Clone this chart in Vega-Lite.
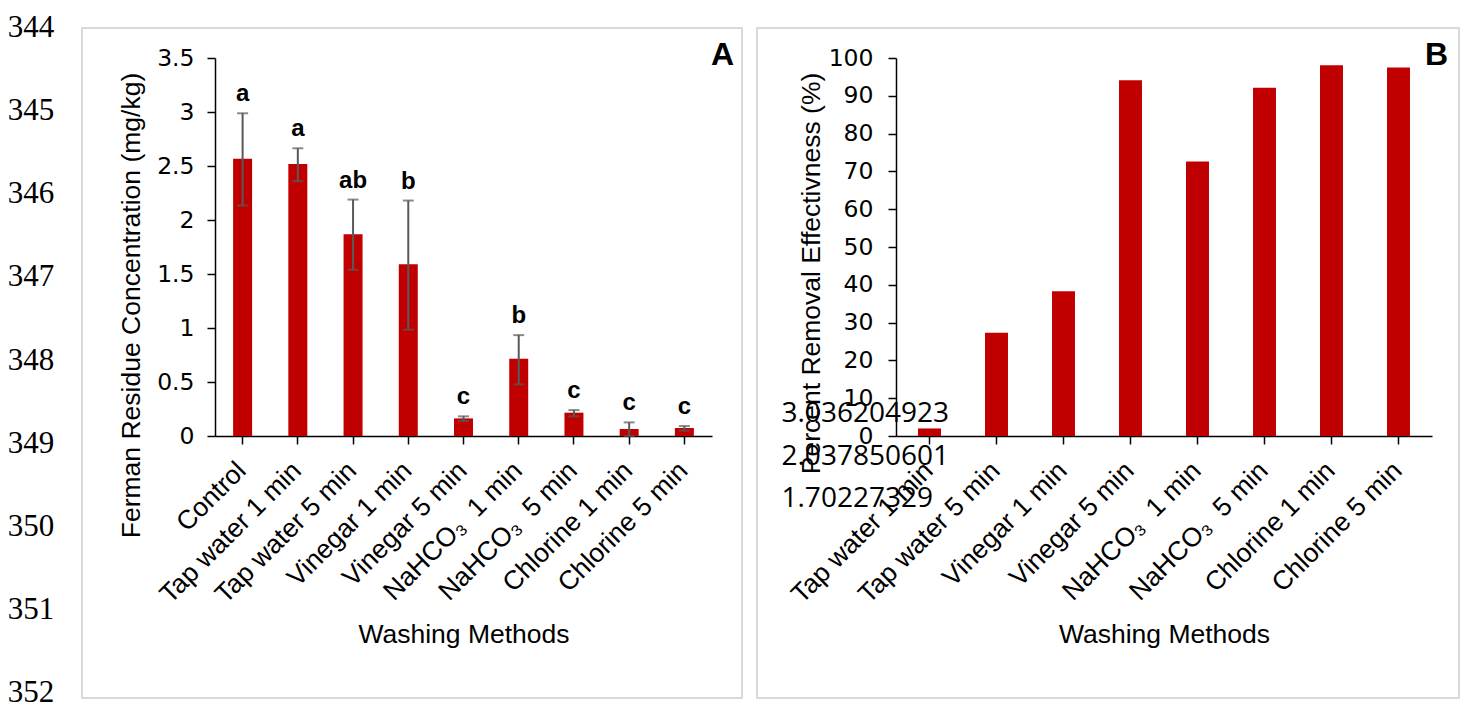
{
  "$schema": "https://vega.github.io/schema/vega-lite/v6.json",
  "padding": {"left": 7, "top": 12, "right": 2, "bottom": 0},
  "spacing": 28,
  "bounds": "flush",
  "background": "white",
  "config": {"font": "Liberation Sans", "view": {"stroke": null}},
  "hconcat": [
    {
      "width": 46,
      "height": 665,
      "view": {"stroke": null},
      "data": {"values": [
        {"line": "344"}, {"line": "345"}, {"line": "346"}, {"line": "347"}, {"line": "348"},
        {"line": "349"}, {"line": "350"}, {"line": "351"}, {"line": "352"}
      ]},
      "mark": {"type": "text", "align": "center", "baseline": "middle", "font": "Liberation Serif", "fontSize": 31, "color": "black"},
      "encoding": {
        "y": {"field": "line", "type": "ordinal", "sort": null, "scale": {"type": "point", "padding": 0}, "axis": null},
        "text": {"field": "line"}
      }
    },
    {
      "hconcat": [
        {
          "width": 660,
          "height": 670,
          "view": {"stroke": "#d9d9d9", "strokeWidth": 2},
          "title": {"text": "A", "orient": "top", "anchor": "end", "frame": "group", "offset": -69, "dx": -8, "baseline": "alphabetic", "fontSize": 32, "fontWeight": "bold", "color": "black", "font": "Liberation Sans"},
          "data": {"values": [
            {"method": "Control", "mean": 2.566, "lo": 2.134, "hi": 2.988, "letter": "a"},
            {"method": "Tap water 1 min", "mean": 2.519, "lo": 2.359, "hi": 2.664, "letter": "a"},
            {"method": "Tap water 5 min", "mean": 1.869, "lo": 1.539, "hi": 2.189, "letter": "ab"},
            {"method": "Vinegar 1 min", "mean": 1.591, "lo": 0.984, "hi": 2.18, "letter": "b"},
            {"method": "Vinegar 5 min", "mean": 0.163, "lo": 0.139, "hi": 0.182, "letter": "c"},
            {"method": "NaHCO\u2083\u00a0 1 min", "mean": 0.715, "lo": 0.478, "hi": 0.934, "letter": "b"},
            {"method": "NaHCO\u2083\u00a0 5 min", "mean": 0.216, "lo": 0.182, "hi": 0.24, "letter": "c"},
            {"method": "Chlorine 1 min", "mean": 0.065, "lo": 0.0, "hi": 0.126, "letter": "c"},
            {"method": "Chlorine 5 min", "mean": 0.074, "lo": 0.05, "hi": 0.092, "letter": "c"}
          ]},
          "encoding": {
            "x": {
              "field": "method", "type": "nominal", "sort": null,
              "scale": {"range": [133, 630], "paddingInner": 0.656, "paddingOuter": 0.328},
              "axis": {
                "title": "Washing Methods", "orient": "bottom", "offset": -262,
                "labelAngle": -45, "labelAlign": "right", "labelBaseline": "top", "labelPadding": 13, "labelOffset": -10,
                "labelFontSize": 26.5, "labelColor": "black", "labelLimit": 0, "labelOverlap": false,
                "tickSize": 8, "tickColor": "black", "tickWidth": 1.5, "domainColor": "black", "domainWidth": 1.5,
                "titleFontSize": 26.5, "titleFontWeight": "normal", "titleColor": "black", "titleY": 198, "titleBaseline": "middle"
              }
            }
          },
          "layer": [
            {
              "mark": {"type": "bar", "color": "#C00000"},
              "encoding": {
                "y": {
                  "field": "mean", "type": "quantitative", "title": "Ferman Residue Concentration (mg/kg)",
                  "scale": {"domain": [0, 3.5], "range": [408, 30], "nice": false},
                  "axis": {
                    "orient": "left", "offset": -133, "values": [0, 0.5, 1, 1.5, 2, 2.5, 3, 3.5], "format": "~g", "grid": false,
                    "labelFont": "DejaVu Sans", "labelFontSize": 23.5, "labelColor": "black", "labelPadding": 13,
                    "tickSize": 8, "tickColor": "black", "tickWidth": 1.5, "domainColor": "black", "domainWidth": 1.5,
                    "titleFontSize": 26.5, "titleFontWeight": "normal", "titleColor": "black",
                    "titleX": -84, "titleY": 277, "titleBaseline": "middle", "titleAlign": "center"
                  }
                }
              }
            },
            {
              "mark": {"type": "errorbar", "ticks": true, "size": 11, "thickness": 2, "color": "#595959"},
              "encoding": {
                "y": {"field": "lo", "type": "quantitative", "title": "Ferman Residue Concentration (mg/kg)"},
                "y2": {"field": "hi"}
              }
            },
            {
              "mark": {"type": "text", "fontSize": 24, "fontWeight": "bold", "baseline": "alphabetic", "dy": -12, "color": "black", "font": "Liberation Sans"},
              "encoding": {
                "y": {"field": "hi", "type": "quantitative", "title": "Ferman Residue Concentration (mg/kg)"},
                "text": {"field": "letter"}
              }
            }
          ]
        },
        {
          "width": 702,
          "height": 670,
          "view": {"stroke": "#d9d9d9", "strokeWidth": 2},
          "title": {"text": "B", "orient": "top", "anchor": "end", "frame": "group", "offset": -69, "dx": -11, "baseline": "alphabetic", "fontSize": 32, "fontWeight": "bold", "color": "black", "font": "Liberation Sans"},
          "encoding": {
            "x": {
              "field": "method", "type": "nominal", "sort": null,
              "scale": {"range": [139, 675], "paddingInner": 0.657, "paddingOuter": 0.3285},
              "axis": {
                "title": "Washing Methods", "orient": "bottom", "offset": -262,
                "labelAngle": -45, "labelAlign": "right", "labelBaseline": "top", "labelPadding": 13, "labelOffset": -10,
                "labelFontSize": 26.5, "labelColor": "black", "labelLimit": 0, "labelOverlap": false,
                "tickSize": 8, "tickColor": "black", "tickWidth": 1.5, "domainColor": "black", "domainWidth": 1.5,
                "titleFontSize": 26.5, "titleFontWeight": "normal", "titleColor": "black", "titleY": 198, "titleBaseline": "middle"
              }
            }
          },
          "layer": [
            {
              "data": {"values": [
                {"method": "Tap water 1 min", "pct": 2.0},
                {"method": "Tap water 5 min", "pct": 27.3},
                {"method": "Vinegar 1 min", "pct": 38.3},
                {"method": "Vinegar 5 min", "pct": 94.1},
                {"method": "NaHCO\u2083\u00a0 1 min", "pct": 72.6},
                {"method": "NaHCO\u2083\u00a0 5 min", "pct": 92.1},
                {"method": "Chlorine 1 min", "pct": 98.1},
                {"method": "Chlorine 5 min", "pct": 97.5}
              ]},
              "mark": {"type": "bar", "color": "#C00000"},
              "encoding": {
                "y": {
                  "field": "pct", "type": "quantitative", "title": "Percent Removal Effectivness (%)",
                  "scale": {"domain": [0, 100], "range": [408, 30], "nice": false},
                  "axis": {
                    "orient": "left", "offset": -139, "values": [0, 10, 20, 30, 40, 50, 60, 70, 80, 90, 100], "format": "d", "grid": false,
                    "labelFont": "DejaVu Sans", "labelFontSize": 23.5, "labelColor": "black", "labelPadding": 15,
                    "tickSize": 8, "tickColor": "black", "tickWidth": 1.5, "domainColor": "black", "domainWidth": 1.5,
                    "titleFontSize": 26.5, "titleFontWeight": "normal", "titleColor": "black",
                    "titleX": -85, "titleY": 245, "titleBaseline": "middle", "titleAlign": "center"
                  }
                }
              }
            },
            {
              "data": {"values": [
                {"method": "Tap water 1 min", "lines": ["3.036204923", "2.037850601", "1.70227329"]}
              ]},
              "mark": {"type": "text", "align": "left", "baseline": "middle", "lineHeight": 42.5, "dx": -148, "dy": -22, "font": "Open Sans", "fontSize": 28, "color": "black"},
              "encoding": {
                "y": {"datum": 0, "type": "quantitative"},
                "text": {"field": "lines", "type": "nominal"}
              }
            }
          ]
        }
      ],
      "spacing": 15,
      "bounds": "flush"
    }
  ]
}
